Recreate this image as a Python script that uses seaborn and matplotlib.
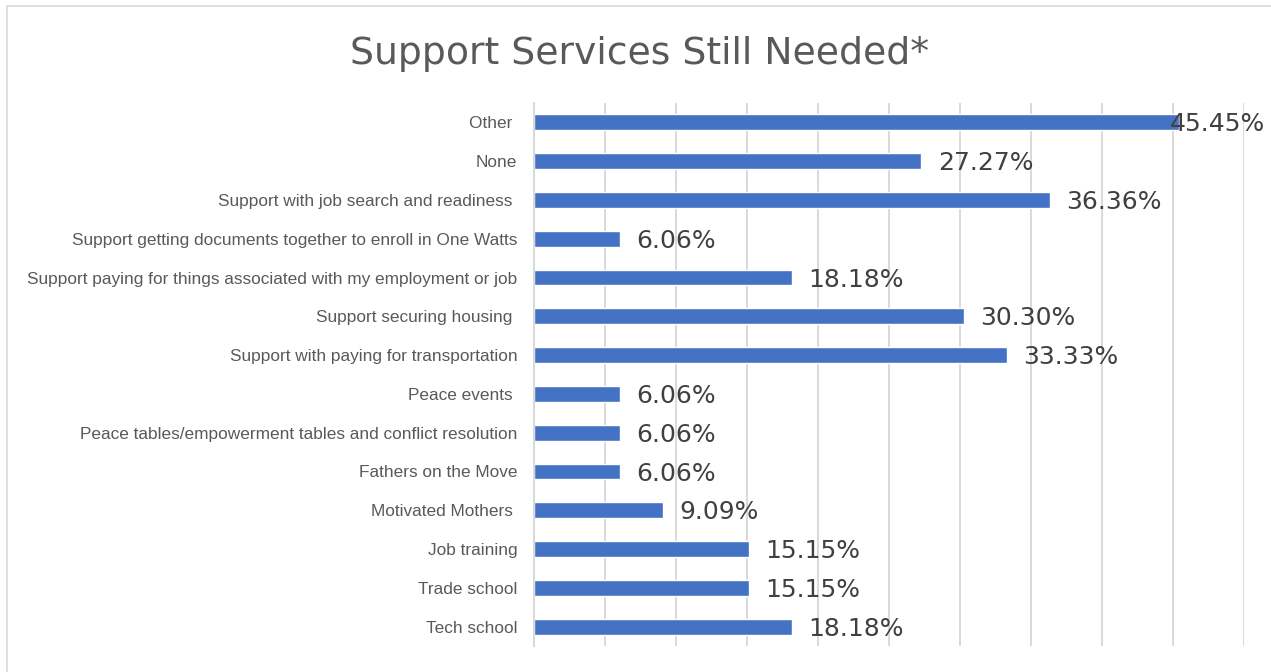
import matplotlib
matplotlib.use("Agg")
import matplotlib.pyplot as plt
import seaborn as sns
import pandas as pd
from matplotlib.patches import Rectangle

categories = [
    "Other ",
    "None",
    "Support with job search and readiness ",
    "Support getting documents together to enroll in One Watts",
    "Support paying for things associated with my employment or job",
    "Support securing housing ",
    "Support with paying for transportation",
    "Peace events ",
    "Peace tables/empowerment tables and conflict resolution",
    "Fathers on the Move",
    "Motivated Mothers ",
    "Job training",
    "Trade school",
    "Tech school",
]
percent_values = [45.45, 27.27, 36.36, 6.06, 18.18, 30.30, 33.33,
                  6.06, 6.06, 6.06, 9.09, 15.15, 15.15, 18.18]
title_text = "Support Services Still Needed*"

df = pd.DataFrame({"service": categories, "pct": percent_values})

sns.set_theme(style="white")
plt.rcParams["font.family"] = ["DejaVu Sans"]

W, H = 1271, 672
fig = plt.figure(figsize=(W / 100, H / 100), dpi=100)
fig.patch.set_facecolor("white")

# chart frame
fig.patches.append(Rectangle((7 / W, -0.1), 1.2, 1 - 6 / H + 0.1,
                             transform=fig.transFigure, fill=False,
                             edgecolor="#D9D9D9", linewidth=1.2))

ax = fig.add_axes([534 / W, 1 - 646 / H, (1243.5 - 534) / W, (646 - 103) / H])
sns.barplot(data=df, x="pct", y="service", order=categories, orient="h",
            color="#4472C4", saturation=1, width=0.41, ax=ax)

ax.set_xlim(0, 50)
ax.set_xticks(range(0, 51, 5))
ax.set_xticklabels([])
ax.tick_params(axis="x", length=0)
ax.tick_params(axis="y", length=0, pad=12)
ax.grid(axis="x", color="#D9D9D9", linewidth=1.4)
ax.set_axisbelow(True)
for side in ["top", "right", "bottom"]:
    ax.spines[side].set_visible(False)
ax.spines["left"].set_color("#D9D9D9")
ax.spines["left"].set_linewidth(1.4)
ax.set_xlabel("")
ax.set_ylabel("")

for lbl in ax.get_yticklabels():
    lbl.set_fontfamily(["Liberation Sans"])
    lbl.set_fontsize(12.4)
    lbl.set_color("#595959")

# value labels just outside each bar end, kept inside the chart frame
fig.canvas.draw()
renderer = fig.canvas.get_renderer()
for i, v in enumerate(percent_values):
    t = ax.annotate(f"{v:.2f}%", xy=(v, i), xytext=(12, -1.5),
                    textcoords="offset points", ha="left", va="center",
                    fontsize=18, color="#404040")
    bb = t.get_window_extent(renderer)
    limit = W - 6
    if bb.x1 > limit:
        shift_pts = (bb.x1 - limit) * 72 / fig.dpi
        t.set_position((12 - shift_pts, -1.5))

fig.text(0.503, 1 - 64 / H, title_text, ha="center", va="baseline",
         fontsize=27.2, color="#595959")

fig.savefig("out.png", dpi=100, facecolor="white")
